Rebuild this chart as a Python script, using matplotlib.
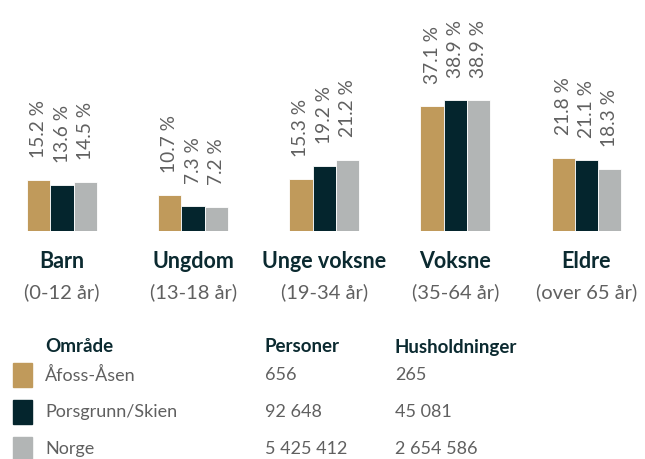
import matplotlib.pyplot as plt
import matplotlib.transforms as mtransforms
from matplotlib.patches import Rectangle

categories = ["Barn", "Ungdom", "Unge voksne", "Voksne", "Eldre"]
age_ranges = ["(0-12 år)", "(13-18 år)", "(19-34 år)", "(35-64 år)", "(over 65 år)"]
areas = ["Åfoss-Åsen", "Porsgrunn/Skien", "Norge"]
afoss = [15.2, 10.7, 15.3, 37.1, 21.8]
porsgrunn = [13.6, 7.3, 19.2, 38.9, 21.1]
norge = [14.5, 7.2, 21.2, 38.9, 18.3]
persons = ["656", "92 648", "5 425 412"]
households = ["265", "45 081", "2 654 586"]

colors = ["#c09a5b", "#04252d", "#b2b5b5"]
dark = "#0b2a30"
grey = "#606060"

plt.rcParams["font.family"] = ["Lato", "DejaVu Sans"]

W, H = 645, 459
fig = plt.figure(figsize=(W / 100, H / 100), dpi=100)


def fy(py):
    # pixel row from the top -> figure fraction
    return 1 - py / H


def fx(px):
    return px / W


base = 231
ax = fig.add_axes([0, fy(base), 1, base / H])
unit = 131.1
ax.set_xlim(-62 / unit, 4 + (W - 586.5) / unit)
ax.set_ylim(0, base / 3.37)
ax.axis("off")

bw = 23.3 / unit
series = [afoss, porsgrunn, norge]
for i, vals in enumerate(series):
    xs = [k + (i - 1) * bw for k in range(len(categories))]
    ax.bar(xs, vals, width=bw, color=colors[i], edgecolor="white", linewidth=0.6)
    for x, v in zip(xs, vals):
        ax.annotate("{:.1f} %".format(v), (x, v), xytext=(0, 16),
                    textcoords="offset points", rotation=90, ha="center",
                    va="bottom", fontsize=13.8, color=grey)

trans = mtransforms.blended_transform_factory(ax.transData, fig.transFigure)
for k, (c, a) in enumerate(zip(categories, age_ranges)):
    ax.text(k, fy(262), c, transform=trans, ha="center", va="center",
            fontsize=15.5, fontweight="bold", color=dark)
    ax.text(k, fy(292), a, transform=trans, ha="center", va="center",
            fontsize=14.5, color=grey)

# legend table
headers = [(45, "Område"), (265, "Personer"), (395, "Husholdninger")]
for px, label in headers:
    fig.text(fx(px), fy(347), label, ha="left", va="center", fontsize=13.5,
             fontweight="bold", color=dark)

row_y = [375, 412, 449]
for i, name in enumerate(areas):
    y = row_y[i]
    fig.patches.append(Rectangle((fx(13), fy(y + 12)), fx(19), 24 / H,
                                 transform=fig.transFigure, color=colors[i]))
    fig.text(fx(45), fy(y), name, ha="left", va="center", fontsize=13, color=grey)
    fig.text(fx(265), fy(y), persons[i], ha="left", va="center", fontsize=13, color=grey)
    fig.text(fx(395), fy(y), households[i], ha="left", va="center", fontsize=13, color=grey)

fig.savefig("out.png", dpi=100)
